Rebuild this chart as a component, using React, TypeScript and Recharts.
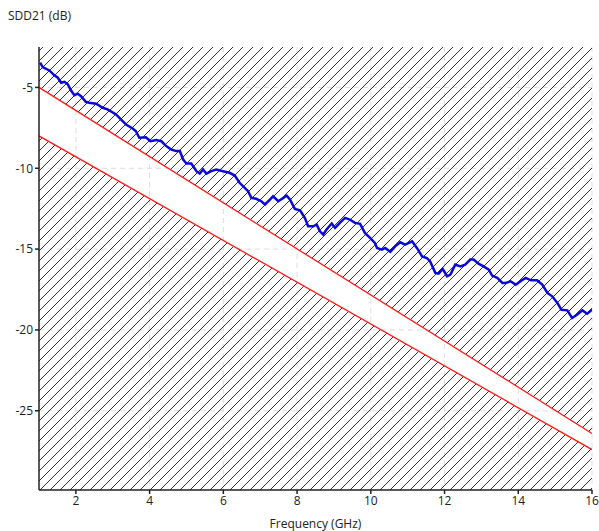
import React from "react";
import {
  ComposedChart,
  Line,
  Area,
  XAxis,
  YAxis,
  CartesianGrid,
} from "recharts";

const freq = [
  1.03, 1.1, 1.28, 1.41, 1.51, 1.6, 1.69, 1.78, 1.87, 1.96, 2.05, 2.14, 2.27,
  2.36, 2.55, 2.73, 2.86, 3.09, 3.22, 3.36, 3.54, 3.63, 3.72, 3.9, 4.02, 4.18,
  4.32, 4.45, 4.59, 4.72, 4.82, 4.91, 5.0, 5.13, 5.27, 5.36, 5.45, 5.54, 5.67,
  5.81, 5.99, 6.17, 6.31, 6.44, 6.58, 6.67, 6.76, 6.89, 7.03, 7.13, 7.27, 7.35,
  7.49, 7.63, 7.72, 7.81, 7.94, 8.08, 8.21, 8.3, 8.44, 8.53, 8.62, 8.71, 8.8,
  8.94, 9.03, 9.16, 9.3, 9.43, 9.57, 9.71, 9.84, 9.98, 10.11, 10.17, 10.3,
  10.39, 10.53, 10.66, 10.8, 10.93, 11.12, 11.25, 11.39, 11.52, 11.61, 11.75,
  11.84, 11.95, 12.07, 12.16, 12.29, 12.43, 12.56, 12.7, 12.79, 12.92, 13.06,
  13.2, 13.29, 13.43, 13.57, 13.66, 13.79, 13.93, 14.06, 14.2, 14.34, 14.51,
  14.65, 14.79, 14.92, 15.06, 15.17, 15.33, 15.46, 15.6, 15.74, 15.87, 16.0,
];
const sdd21 = [
  -3.47, -3.74, -3.95, -4.24, -4.4, -4.71, -4.65, -4.81, -5.19, -5.48, -5.39,
  -5.54, -5.89, -5.95, -6.01, -6.26, -6.36, -6.67, -6.98, -7.29, -7.54, -7.71,
  -8.11, -8.08, -8.33, -8.26, -8.33, -8.63, -8.84, -8.94, -8.94, -9.46, -9.71,
  -9.71, -10.18, -10.33, -10.08, -10.33, -10.18, -10.08, -10.18, -10.28,
  -10.45, -10.9, -11.21, -11.42, -11.83, -11.89, -12.04, -12.24, -11.93,
  -11.73, -12.04, -11.83, -11.69, -11.94, -12.51, -12.6, -13.07, -13.59,
  -13.59, -13.48, -13.9, -14.1, -13.79, -13.42, -13.69, -13.38, -13.07, -13.17,
  -13.38, -13.44, -14.0, -14.31, -14.62, -14.93, -15.03, -14.93, -15.17,
  -14.83, -14.58, -14.72, -14.52, -14.93, -15.45, -15.55, -15.76, -16.47,
  -16.52, -16.23, -16.68, -16.58, -15.96, -16.07, -15.96, -15.65, -15.65,
  -15.9, -16.07, -16.27, -16.64, -16.78, -17.09, -17.09, -16.99, -17.2, -16.99,
  -16.78, -16.93, -16.93, -17.2, -17.71, -17.92, -18.33, -18.75, -18.79,
  -19.26, -19.05, -18.79, -19.0, -18.75,
];

// limit lines
const limitFreq = [1, 16];
const upperLimit = [-5, -26.4];
const lowerLimit = [-8, -27.4];

const yTop = -2.5;
const yBottom = -29.9;
const xTicks = [2, 4, 6, 8, 10, 12, 14, 16];
const yTicks = [-25, -20, -15, -10, -5];

const traceData = freq.map((f, i) => ({ f, sdd21: sdd21[i] }));
const limitData = limitFreq.map((f, i) => ({
  f,
  upper: upperLimit[i],
  lower: lowerLimit[i],
  aboveBand: [upperLimit[i], yTop],
  belowBand: [yBottom, lowerLimit[i]],
}));

const font = "'Open Sans', 'Noto Sans', sans-serif";
const tickStyle = { fontSize: 12, fill: "#222", fontFamily: font };

export default function App() {
  return (
    <div
      style={{
        position: "absolute",
        left: 0,
        top: 0,
        width: 599,
        height: 531,
        background: "#fff",
        fontFamily: font,
      }}
    >
      <svg width={0} height={0} style={{ position: "absolute" }}>
        <defs>
          <pattern
            id="hatch"
            patternUnits="userSpaceOnUse"
            width={10}
            height={10}
          >
            <path
              d="M-1,1 L1,-1 M0,10 L10,0 M9,11 L11,9"
              stroke="#333"
              strokeWidth={1}
            />
          </pattern>
        </defs>
      </svg>
      <div
        style={{
          position: "absolute",
          left: 8,
          top: 7,
          fontSize: 12,
          color: "#222",
        }}
      >
        SDD21 (dB)
      </div>
      <ComposedChart
        width={599}
        height={531}
        data={limitData}
        margin={{ top: 47, right: 7, bottom: 0, left: 0 }}
      >
        <CartesianGrid
          stroke="#ddd"
          strokeDasharray="5 4"
          verticalValues={xTicks}
          horizontalValues={yTicks}
        />
        <XAxis
          type="number"
          dataKey="f"
          domain={[1, 16]}
          ticks={xTicks}
          allowDataOverflow
          height={41}
          tick={tickStyle}
          tickSize={4}
          stroke="#222"
          strokeWidth={1.5}
          label={{
            value: "Frequency (GHz)",
            position: "insideBottom",
            offset: 3,
            style: { fontSize: 12, fill: "#222", fontFamily: font },
          }}
        />
        <XAxis
          xAxisId="top"
          orientation="top"
          type="number"
          dataKey="f"
          domain={[1, 16]}
          height={0}
          tick={false}
          tickLine={false}
          stroke="#222"
          strokeWidth={1.5}
        />
        <YAxis
          type="number"
          domain={[yBottom, yTop]}
          ticks={yTicks}
          allowDataOverflow
          width={39}
          tick={tickStyle}
          tickSize={4}
          stroke="#222"
          strokeWidth={1.5}
        />
        <YAxis
          yAxisId="right"
          orientation="right"
          type="number"
          domain={[yBottom, yTop]}
          width={0}
          tick={false}
          tickLine={false}
          stroke="#222"
          strokeWidth={1.5}
        />
        <Area
          dataKey="aboveBand"
          type="linear"
          stroke="none"
          fill="url(#hatch)"
          fillOpacity={1}
          isAnimationActive={false}
          activeDot={false}
        />
        <Area
          dataKey="belowBand"
          type="linear"
          stroke="none"
          fill="url(#hatch)"
          fillOpacity={1}
          isAnimationActive={false}
          activeDot={false}
        />
        <Line
          dataKey="upper"
          type="linear"
          stroke="#ff1a1a"
          strokeWidth={1.3}
          dot={false}
          isAnimationActive={false}
        />
        <Line
          dataKey="lower"
          type="linear"
          stroke="#ff1a1a"
          strokeWidth={1.3}
          dot={false}
          isAnimationActive={false}
        />
        <Line
          data={traceData}
          dataKey="sdd21"
          type="linear"
          stroke="#0a0ad8"
          strokeWidth={2.5}
          dot={false}
          isAnimationActive={false}
        />
      </ComposedChart>
    </div>
  );
}
